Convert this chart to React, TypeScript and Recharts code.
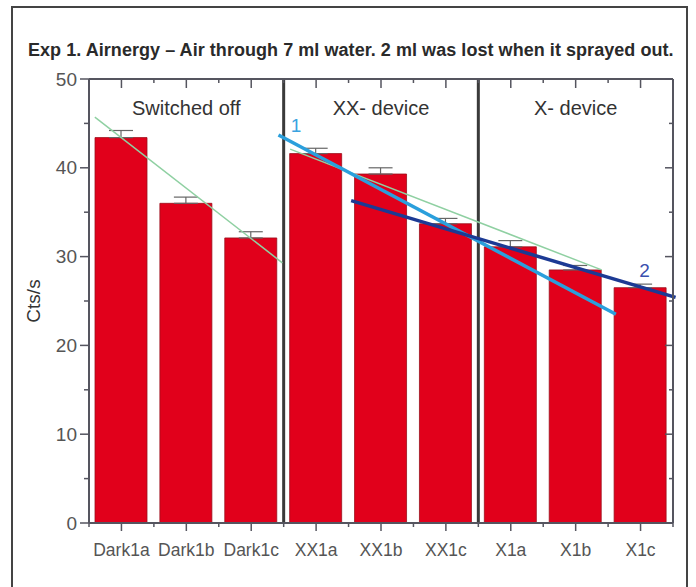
import React from 'react';
import {
  ComposedChart, Bar, Line, XAxis, YAxis, ErrorBar, ReferenceLine, ReferenceArea, ReferenceDot,
} from 'recharts';

const categories = ['Dark1a', 'Dark1b', 'Dark1c', 'XX1a', 'XX1b', 'XX1c', 'X1a', 'X1b', 'X1c'];
const values = [43.4, 36.0, 32.1, 41.6, 39.3, 33.7, 31.1, 28.5, 26.5];
const errUpper = [0.8, 0.7, 0.7, 0.6, 0.7, 0.6, 0.7, 0.5, 0.4];
const yTicks = [0, 5, 10, 15, 20, 25, 30, 35, 40, 45, 50];
const xTicks = [0, 0.5, 1, 1.5, 2, 2.5, 3, 3.5, 4, 4.5, 5, 5.5, 6, 6.5, 7, 7.5, 8, 8.5, 9];
const groupLabels = ['Switched off', 'XX- device', 'X- device'];
const groupBounds = [[0, 3], [3, 6], [6, 9]];
const dividers = [3, 6];

const greenLine1 = [{ x: 0.09, y: 45.7 }, { x: 2.98, y: 29.3 }];
const greenLine2 = [{ x: 3.1, y: 42.1 }, { x: 7.9, y: 28.5 }];
const blueLine1 = [{ x: 2.92, y: 43.7 }, { x: 8.12, y: 23.5 }];
const blueLine2 = [{ x: 4.04, y: 36.3 }, { x: 9.04, y: 25.4 }];
const lineLabel1 = { x: 3.19, y: 44.8, text: '1' };
const lineLabel2 = { x: 8.56, y: 28.5, text: '2' };

const data = categories.map((name, i) => ({ name, pos: i + 0.5, value: values[i], err: [0, errUpper[i]] }));

const FONT = '"Liberation Sans", Arial, Helvetica, sans-serif';
const AX = '#55555f';

const LeftTick = (props: any) => {
  const { x, y, payload } = props;
  const v = payload.value;
  const major = v % 10 === 0;
  return (
    <g>
      <line x1={x - (major ? 9 : 5)} y1={y} x2={x} y2={y} stroke={AX} strokeWidth={1.5} />
      {major && (
        <text x={x - 12} y={y} dy={6.5} textAnchor="end" fontSize={19} fill="#555" fontFamily={FONT}>
          {v}
        </text>
      )}
    </g>
  );
};

const RightTick = (props: any) => {
  const { x, y, payload } = props;
  const major = payload.value % 10 === 0;
  return <line x1={x - (major ? 8 : 4)} y1={y} x2={x} y2={y} stroke={AX} strokeWidth={1.5} />;
};

const BottomTick = (props: any) => {
  const { x, y, payload } = props;
  const v = payload.value;
  const center = v % 1 !== 0;
  return (
    <g>
      <line x1={x} y1={y} x2={x} y2={y + (center ? 8 : 4)} stroke={AX} strokeWidth={1.5} />
      {center && (
        <text x={x} y={y + 33} textAnchor="middle" fontSize={17.5} fill="#555" fontFamily={FONT}>
          {categories[Math.floor(v)]}
        </text>
      )}
    </g>
  );
};

const TopTick = (props: any) => {
  const { x, y, payload } = props;
  const center = payload.value % 1 !== 0;
  return <line x1={x} y1={y} x2={x} y2={y + (center ? 9 : 4)} stroke={AX} strokeWidth={1.5} />;
};

export default function App() {
  return (
    <div style={{ position: 'absolute', left: 0, top: 0, width: 696, height: 587, overflow: 'hidden', background: '#fff', fontFamily: FONT }}>
      <div style={{ position: 'absolute', left: 11, top: 6, width: 677, height: 640, border: '2px solid #444', boxSizing: 'border-box' }} />
      <div style={{ position: 'absolute', left: 28, top: 40, whiteSpace: 'nowrap', fontSize: 18, fontWeight: 'bold', letterSpacing: 0.05, color: '#2a2a2a', lineHeight: '20px' }}>
        Exp 1. Airnergy – Air through 7 ml water. 2 ml was lost when it sprayed out.
      </div>
      <div style={{ position: 'absolute', left: 0, top: 0 }}>
        <ComposedChart width={696} height={587} data={data} margin={{ top: 78, right: 22, bottom: 34, left: 29 }}>
          <XAxis xAxisId="b" dataKey="pos" type="number" domain={[0, 9]} ticks={xTicks} allowDataOverflow height={30}
            tickSize={0} tickMargin={0} tickLine={false} axisLine={{ stroke: AX, strokeWidth: 2 }} tick={<BottomTick />} interval={0} />
          <XAxis xAxisId="t" dataKey="pos" orientation="top" type="number" domain={[0, 9]} ticks={xTicks} allowDataOverflow height={1}
            tickSize={0} tickMargin={0} tickLine={false} axisLine={{ stroke: AX, strokeWidth: 2 }} tick={<TopTick />} interval={0} />
          <YAxis yAxisId="l" domain={[0, 50]} ticks={yTicks} width={60} tickSize={0} tickMargin={0} tickLine={false}
            axisLine={{ stroke: AX, strokeWidth: 2 }} tick={<LeftTick />} interval={0} allowDataOverflow
            label={{ value: 'Cts/s', angle: -90, position: 'insideLeft', offset: 4, fontSize: 19, fill: '#333', fontFamily: FONT, style: { textAnchor: 'middle' } }} />
          <YAxis yAxisId="r" orientation="right" domain={[0, 50]} ticks={yTicks} width={1} tickSize={0} tickMargin={0} tickLine={false}
            axisLine={{ stroke: AX, strokeWidth: 2 }} tick={<RightTick />} interval={0} allowDataOverflow />
          <Bar xAxisId="b" yAxisId="l" dataKey="value" barSize={52} fill="#e1001b" stroke="#9a0f1c" strokeWidth={0.8} isAnimationActive={false}>
            <ErrorBar dataKey="err" width={12} stroke="#666" strokeWidth={1.2} />
          </Bar>
          <Line xAxisId="t" yAxisId="r" dataKey="value" stroke="none" dot={false} activeDot={false} legendType="none" isAnimationActive={false} />
          {groupLabels.map((g, i) => (
            <ReferenceArea key={g} xAxisId="b" yAxisId="l" x1={groupBounds[i][0]} x2={groupBounds[i][1]} y1={43.4} y2={50}
              fill="none" fillOpacity={0} stroke="none" ifOverflow="visible"
              label={{ value: g, position: 'center', fontSize: 20, fill: '#333', fontFamily: FONT }} />
          ))}
          {dividers.map((d) => (
            <ReferenceLine key={d} xAxisId="b" yAxisId="l" x={d} stroke="#3a3a3a" strokeWidth={3} />
          ))}
          <ReferenceLine xAxisId="b" yAxisId="l" segment={greenLine1} stroke="#8fd0a2" strokeWidth={1.5} ifOverflow="visible" />
          <ReferenceLine xAxisId="b" yAxisId="l" segment={greenLine2} stroke="#8fd0a2" strokeWidth={1.5} ifOverflow="visible" />
          <ReferenceLine xAxisId="b" yAxisId="l" segment={blueLine1} stroke="#2a9fdc" strokeWidth={3.5} ifOverflow="visible" />
          <ReferenceLine xAxisId="b" yAxisId="l" segment={blueLine2} stroke="#1c3a94" strokeWidth={3.5} ifOverflow="visible" />
          <ReferenceDot xAxisId="b" yAxisId="l" x={lineLabel1.x} y={lineLabel1.y} r={0} stroke="none" fill="none" ifOverflow="visible"
            label={{ value: lineLabel1.text, position: 'center', fontSize: 19, fill: '#3aa3e0', fontFamily: FONT }} />
          <ReferenceDot xAxisId="b" yAxisId="l" x={lineLabel2.x} y={lineLabel2.y} r={0} stroke="none" fill="none" ifOverflow="visible"
            label={{ value: lineLabel2.text, position: 'center', fontSize: 19, fill: '#3a4fae', fontFamily: FONT }} />
        </ComposedChart>
      </div>
    </div>
  );
}
